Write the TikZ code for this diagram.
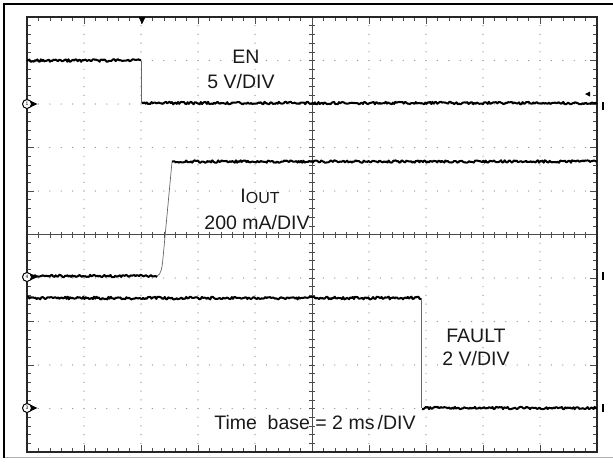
\documentclass[tikz,border=0pt]{standalone}
\usepackage{fontspec}
\setmainfont{Liberation Sans}

\begin{document}
\begin{tikzpicture}[x=1pt,y=-1pt,
  frame/.style={line width=2.5pt, black},
  graticule/.style={line width=1.6pt, black!85},
  tick/.style={line width=0.6pt, black!70},
  griddot/.style={fill=black!40},
  trace/.style={line width=2pt, black, line join=round},
  edge/.style={line width=0.7pt, black!60},
  label/.style={font=\fontsize{19.5}{22}\selectfont, inner sep=0pt, anchor=base, text=black!90},
  chmark/.style={circle, draw, line width=1pt, fill=white, inner sep=0pt, minimum size=9pt, font=\fontsize{5}{5}\selectfont}]
\useasboundingbox (0,0) rectangle (613,464);
\pgfmathsetseed{42}
% outer frame
\draw[frame] (4,458) -- (4,4) -- (613,4);
\draw[black!30, line width=0.8pt] (5,457) -- (613,457);
% dotted grid
\foreach \i in {1,2,3,4,6,7,8,9} {
  \foreach \j in {1,...,49} {
    \fill[griddot] (27+57*\i,17+8.7*\j) circle (0.7pt);
    \fill[griddot] (27+11.4*\j,17+43.5*\i) circle (0.7pt);
  }
}
% center axes
\draw[tick] (312,17) -- (312,452);
\draw[tick] (27,234.5) -- (597,234.5);
\foreach \j in {1,...,49} {
  \draw[tick] (309,17+8.7*\j) -- (315,17+8.7*\j);
  \draw[tick] (27+11.4*\j,231.5) -- (27+11.4*\j,237.5);
}
% border ticks
\foreach \j in {1,...,49} {
  \draw[tick] (27+11.4*\j,17) -- ++(0,4);
  \draw[tick] (27+11.4*\j,452) -- ++(0,-4);
  \draw[tick] (27,17+8.7*\j) -- ++(4,0);
  \draw[tick] (597,17+8.7*\j) -- ++(-4,0);
}
\foreach \i in {1,...,9} {
  \draw[tick] (27+57*\i,17) -- ++(0,7);
  \draw[tick] (27+57*\i,452) -- ++(0,-7);
  \draw[tick] (27,17+43.5*\i) -- ++(7,0);
  \draw[tick] (597,17+43.5*\i) -- ++(-7,0);
}
% graticule border
\draw[graticule] (27,17) rectangle (597,452);
% EN trace
\draw[trace] plot[domain=27:141, samples=100] (\x,{60.5+1.3*rand});
\draw[edge] (141.5,61) -- (141.5,103);
\draw[trace] plot[domain=142:597, samples=380] (\x,{103+1.3*rand});
% IOUT trace
\draw[trace] plot[domain=27:157, samples=110] (\x,{276+1.2*rand});
\draw[edge] (157,276) .. controls (161,275) and (162,268) .. (163,258) -- (172,162);
\draw[trace] plot[domain=172:597, samples=360] (\x,{161.5+1.2*rand});
% FAULT trace
\draw[trace] plot[domain=27:421, samples=330] (\x,{298+1.4*rand});
\draw[edge] (421.5,298) -- (421.5,408);
\draw[trace] plot[domain=422:597, samples=150] (\x,{408+1.2*rand});
% trigger markers
\fill[black] (138.5,17) -- (145.5,17) -- (142,24) -- cycle;
\fill[black] (585,94) -- (590,91.5) -- (590,96.5) -- cycle;
% right offset marks
\foreach \y in {106,276,408} \draw[line width=1.4pt] (603,\y-4) -- (603,\y+4);
% left channel markers
\foreach \y in {104,277,408} \fill[black] (31,\y-3) -- (37.5,\y) -- (31,\y+3) -- cycle;
\node (ch1) at (27,104) [chmark] {1};
\node (ch4) at (27,277) [chmark] {4};
\node (ch3) at (27,408) [chmark] {3};
% labels
\node (en) at (246,63) [label] {EN};
\node (enscale) at (241,88) [label] {5 V/DIV};
\node (iout) at (260,202) [label] {I{\fontsize{16}{16}\selectfont\raisebox{-1pt}{OUT}}};
\node (ioutscale) at (257,229) [label] {200 mA/DIV};
\node (fault) at (476,342) [label] {FAULT};
\node (faultscale) at (476,365) [label] {2 V/DIV};
\node (timebase) at (315,429) [label] {Time\ \ base = 2 ms\,/DIV};
\end{tikzpicture}
\end{document}
